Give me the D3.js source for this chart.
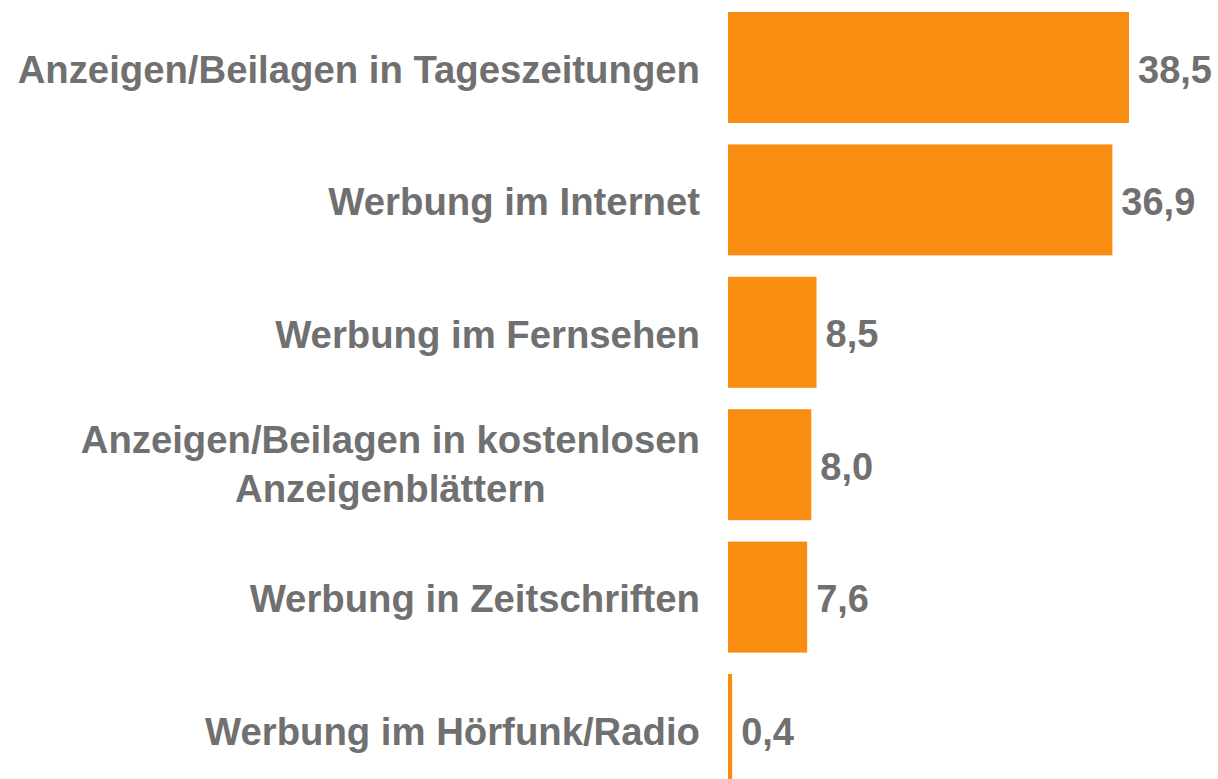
<!DOCTYPE html>
<html>
<head>
<meta charset="utf-8">
<script src="https://cdn.jsdelivr.net/npm/d3@7"></script>
<style>
  body { margin: 0; background: #fff; }
  text { font-family: "Liberation Sans", Arial, sans-serif; font-weight: bold; }
</style>
</head>
<body>
<div id="viz"></div>
<script>
const width = 1218;
const height = 779;
const barColor = '#F98D12';
const textColor = '#707070';

// data
const categories = [
  ['Anzeigen/Beilagen in Tageszeitungen'],
  ['Werbung im Internet'],
  ['Werbung im Fernsehen'],
  ['Anzeigen/Beilagen in kostenlosen', 'Anzeigenblättern'],
  ['Werbung in Zeitschriften'],
  ['Werbung im Hörfunk/Radio']
];
const values = [38.5, 36.9, 8.5, 8.0, 7.6, 0.4];

const keys = categories.map(c => c.join(' '));
const rows = keys.map((k, i) => ({key: k, lines: categories[i], value: values[i]}));

const step = 132.4;
const chartTop = 12;

const yScale = d3.scaleBand()
  .domain(keys)
  .range([chartTop, chartTop + keys.length * step - 21.4])
  .paddingInner(0.162)
  .paddingOuter(0);

const xScale = d3.scaleLinear()
  .domain([0, 38.5])
  .range([728, 1129]);

const svg = d3.select('#viz')
  .append('svg')
    .attr('width', width)
    .attr('height', height);

svg.append('g')
  .selectAll('rect')
  .data(rows)
  .join('rect')
    .attr('x', xScale(0))
    .attr('y', d => yScale(d.key))
    .attr('width', d => xScale(d.value) - xScale(0))
    .attr('height', yScale.bandwidth())
    .attr('fill', barColor);

const fmt = v => d3.format('.1f')(v).replace('.', ',');

svg.append('g')
  .selectAll('text')
  .data(rows)
  .join('text')
    .attr('x', d => xScale(d.value) + 9)
    .attr('y', d => yScale(d.key) + yScale.bandwidth() / 2)
    .attr('dy', '0.4em')
    .attr('font-size', 38)
    .attr('fill', textColor)
    .text(d => fmt(d.value));

// category labels, multi-line ones are centred inside a right aligned block
const labelRight = 700;
const lineGap = 49;
const labels = svg.append('g');
rows.forEach(d => {
  const cy = yScale(d.key) + yScale.bandwidth() / 2;
  const n = d.lines.length;
  const t = labels.append('text')
    .attr('font-size', 38.3)
    .attr('fill', textColor);
  const spans = d.lines.map((line, i) => t.append('tspan')
    .attr('y', cy + (i - (n - 1) / 2) * lineGap - (n > 1 ? 3 : 0))
    .attr('dy', '0.4em')
    .text(line));
  if (n === 1) {
    t.attr('text-anchor', 'end');
    spans[0].attr('x', labelRight);
  } else {
    const w = Math.max(...spans.map(s => s.node().getComputedTextLength()));
    t.attr('text-anchor', 'middle');
    spans.forEach(s => s.attr('x', labelRight - w / 2));
  }
});
</script>
</body>
</html>
